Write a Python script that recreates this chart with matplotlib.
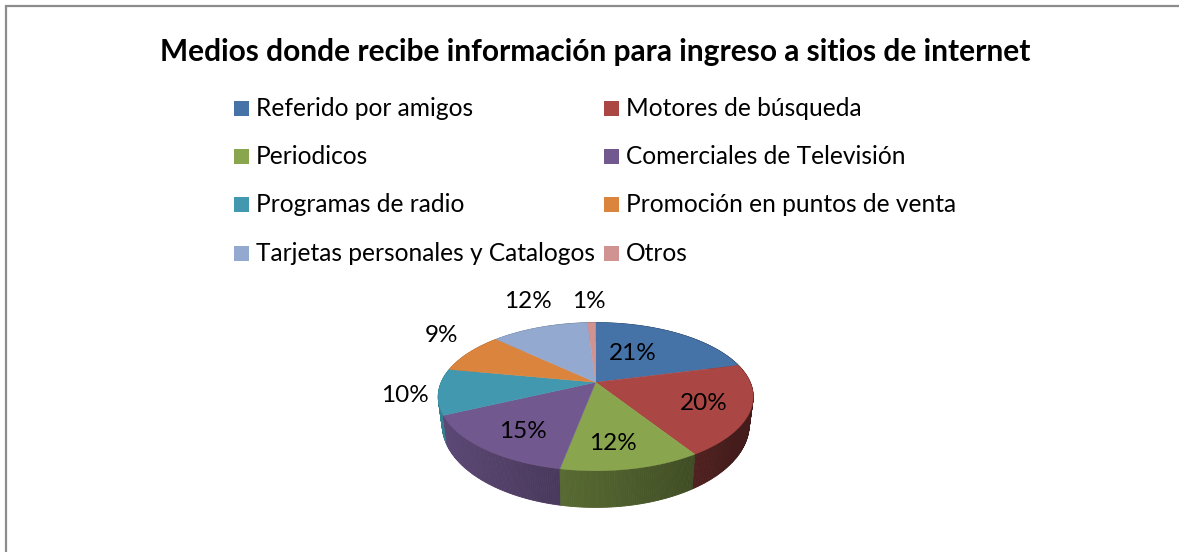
import numpy as np
import matplotlib
matplotlib.use("Agg")
import matplotlib.pyplot as plt
from matplotlib.patches import Rectangle, Polygon
from matplotlib.colors import to_rgb

title = "Medios donde recibe información para ingreso a sitios de internet"
categories = ["Referido por amigos", "Motores de búsqueda", "Periodicos",
              "Comerciales de Televisión", "Programas de radio",
              "Promoción en puntos de venta", "Tarjetas personales y Catalogos", "Otros"]
values = [21, 20, 12, 15, 10, 9, 12, 1]
colors = ["#4572A7", "#AA4643", "#89A54E", "#71588F", "#4198AF", "#DB843D", "#93A9CF", "#D19392"]

# layout, in reference pixels
label_pos = [(633, 354), (704, 404), (613, 444), (523, 432), (405, 395), (441, 335), (528, 301), (589, 301)]
legend_cols = [234, 604]
legend_rows = [108.5, 156.5, 204.5, 253.5]
APEX = (595.7, 382.3)
A, B, P = 71.27, 154.5, 0.194
A2, B2, D = 79.9, 150.6, 26.0

W, H = 1179, 552
fig = plt.figure(figsize=(W / 100, H / 100), dpi=100, facecolor="white")
ax = fig.add_axes([0, 0, 1, 1])
ax.set_xlim(0, W)
ax.set_ylim(H, 0)
ax.axis("off")
plt.rcParams["font.family"] = ["Lato", "DejaVu Sans"]


def rim(theta, a, b, shift=0.0):
    u, v = np.sin(theta), np.cos(theta)
    d = 1 + P * v
    return APEX[0] + b * u / d, APEX[1] + shift - a * v / d


# chart frame
ax.plot([W, 5.5, 5.5], [5.5, 5.5, H], color="#8c8c8c", lw=1.6, solid_joinstyle="miter")

ax.text(595, 52, title, ha="center", va="center", fontsize=21.55, fontweight="bold", color="black")

# legend
for i, (cat, col) in enumerate(zip(categories, colors)):
    x = legend_cols[i % 2]
    y = legend_rows[i // 2]
    ax.add_patch(Rectangle((x, y - 7.5), 15, 15, facecolor=col, edgecolor="none"))
    ax.text(x + 22, y, cat, ha="left", va="center", fontsize=17.65, color="black")

# pie geometry from the values
edges = np.cumsum([0] + values) / sum(values) * 2 * np.pi
quads = []
for i, col in enumerate(colors):
    n = max(4, int((edges[i + 1] - edges[i]) * 90))
    t = np.linspace(edges[i], edges[i + 1], n)
    for t0, t1 in zip(t[:-1], t[1:]):
        xa, ya = rim(np.array([t0, t1]), A, B)
        xb, yb = rim(np.array([t1, t0]), A2, B2, D)
        tm = (t0 + t1) / 2
        f = np.clip(0.6 - 0.25 * np.sin(tm), 0.4, 0.9)
        shade = tuple(c * f for c in to_rgb(col))
        quads.append((np.cos(tm), list(zip(xa, ya)) + list(zip(xb, yb)), shade))

for _, pts, shade in sorted(quads, key=lambda q: -q[0]):
    ax.add_patch(Polygon(pts, closed=True, facecolor=shade, edgecolor=shade, lw=0.6))

for i, col in enumerate(colors):
    n = max(6, int((edges[i + 1] - edges[i]) * 90))
    t = np.linspace(edges[i], edges[i + 1], n)
    xs, ys = rim(t, A, B)
    pts = [APEX] + list(zip(xs, ys))
    ax.add_patch(Polygon(pts, closed=True, facecolor=col, edgecolor=col, lw=0.3))

for v, (x, y) in zip(values, label_pos):
    ax.text(x, y, f"{v}%", ha="center", va="center", fontsize=17.5, color="black")

fig.savefig("out.png", dpi=100, facecolor="white")
